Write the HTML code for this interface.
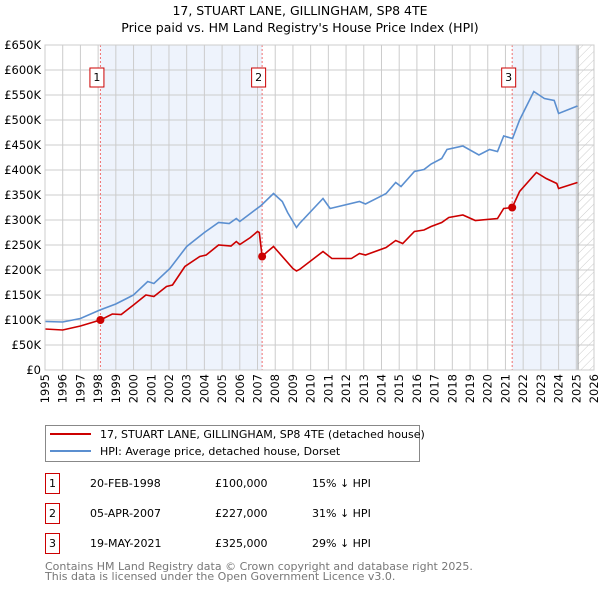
<!DOCTYPE html>
<html><head><meta charset="utf-8"><style>
body{margin:0;background:#fff;width:600px;height:590px;overflow:hidden;font-family:"DejaVu Sans","Liberation Sans",sans-serif}
svg text{font-family:"DejaVu Sans","Liberation Sans",sans-serif}
</style></head><body>
<svg id="chart" width="600" height="590" xmlns="http://www.w3.org/2000/svg">
<defs><pattern id="hatch" width="6" height="6" patternUnits="userSpaceOnUse" patternTransform="rotate(45)"><line x1="0" y1="0" x2="0" y2="6" stroke="#ccc" stroke-width="1"/></pattern></defs>
<text x="300" y="15" text-anchor="middle" font-size="12.5">17, STUART LANE, GILLINGHAM, SP8 4TE</text>
<text x="300" y="32" text-anchor="middle" font-size="12.5">Price paid vs. HM Land Registry's House Price Index (HPI)</text>
<g id="plot"></g>
<g>
<rect x="45.5" y="425.5" width="374" height="36" fill="#fff" stroke="#888"/>
<line x1="50" y1="434" x2="91" y2="434" stroke="#cc0000" stroke-width="2"/>
<text x="100" y="438" font-size="11">17, STUART LANE, GILLINGHAM, SP8 4TE (detached house)</text>
<line x1="50" y1="451" x2="91" y2="451" stroke="#5b8fd0" stroke-width="2"/>
<text x="100" y="455" font-size="11">HPI: Average price, detached house, Dorset</text>
</g>
<g id="table" font-size="11"></g>
<text x="45" y="570" font-size="11" fill="#777">Contains HM Land Registry data © Crown copyright and database right 2025.</text>
<text x="45" y="580" font-size="11" fill="#777">This data is licensed under the Open Government Licence v3.0.</text>
</svg>
<script>
const yTicks=[0,50,100,150,200,250,300,350,400,450,500,550,600,650];
const yTickLabels=["£0","£50K","£100K","£150K","£200K","£250K","£300K","£350K","£400K","£450K","£500K","£550K","£600K","£650K"];
const xTicks=[1995,1996,1997,1998,1999,2000,2001,2002,2003,2004,2005,2006,2007,2008,2009,2010,2011,2012,2013,2014,2015,2016,2017,2018,2019,2020,2021,2022,2023,2024,2025,2026];
const hpiYears=[1995,1996,1997,1998.1,1999,2000,2000.8,2001.15,2002.05,2003,2004,2004.8,2005.4,2005.8,2006,2006.6,2007.2,2007.9,2008.4,2008.7,2009.2,2009.37,2010.7,2011.1,2012.76,2013.1,2014.26,2014.8,2015.1,2015.86,2016.4,2016.8,2017.4,2017.7,2018.6,2019.5,2020.1,2020.55,2020.9,2021.4,2021.8,2022.6,2023.2,2023.75,2024.0,2025.06];
const hpiValues=[97,96,103,120,132,150,177,173,203,247,275,295,293,303,297,313,329,353,337,315,285,293,343,323,337,332,353,375,367,397,401,412,423,441,448,430,441,437,468,463,500,557,543,539,513,528];
const ppYears=[1995,1996,1997,1998.13,1998.8,1999.3,2000,2000.7,2001.15,2001.86,2002.2,2002.9,2003.74,2004.1,2004.8,2005.5,2005.8,2006,2006.6,2007.0,2007.1,2007.26,2007.5,2007.9,2008.2,2009.0,2009.2,2009.37,2010.7,2011.2,2012.3,2012.76,2013.1,2014.26,2014.8,2015.2,2015.86,2016.4,2016.8,2017.4,2017.8,2018.6,2019.3,2020.55,2020.9,2021.38,2021.8,2022.75,2023.3,2023.9,2024.0,2025.06];
const ppValues=[82,80,88,100,112,111,130,150,147,167,170,207,227,230,250,248,257,251,265,277,275,227,235,247,235,203,198,201,237,223,223,233,230,245,259,253,277,280,287,295,305,310,299,303,323,325,357,395,383,373,363,375];
const saleYears=[1998.13,2007.26,2021.38];
const saleValues=[100,227,325];
const saleLabels=["1","2","3"];
const saleDates=["20-FEB-1998","05-APR-2007","19-MAY-2021"];
const salePrices=["£100,000","£227,000","£325,000"];
const saleHpi=["15% ↓ HPI","31% ↓ HPI","29% ↓ HPI"];
const dataEnd=2025.1;

const NS="http://www.w3.org/2000/svg";
const X0=45,X1=594,Y0=370,Y1=45;
const xs=y=>X0+(y-1995)/(2026-1995)*(X1-X0);
const ys=v=>Y0-v/650*(Y0-Y1);
const plot=document.getElementById('plot');
function mk(tag,attrs,parent){const e=document.createElementNS(NS,tag);for(const k in attrs)e.setAttribute(k,attrs[k]);(parent||plot).appendChild(e);return e;}
let s1=mk('rect',{x:xs(saleYears[0]),y:Y1,width:xs(saleYears[1])-xs(saleYears[0]),height:Y0-Y1,fill:'#eef3fc'});


let s2=mk('rect',{x:xs(saleYears[2]),y:Y1,width:xs(dataEnd)-xs(saleYears[2]),height:Y0-Y1,fill:'#eef3fc'});


let h=mk('rect',{x:xs(dataEnd),y:Y1,width:X1-xs(dataEnd),height:Y0-Y1,fill:'url(#hatch)'});


xTicks.forEach(t=>{
 const l=mk('line',{x1:xs(t),x2:xs(t),y1:Y1,y2:Y0,stroke:'#ccc','stroke-width':1});
 
 
 const tx=mk('text',{transform:`translate(${xs(t)+4},${Y0+4}) rotate(-90)`,'text-anchor':'end','font-size':11.5});
 
 
 tx.textContent=t;
});
yTicks.forEach((t,i)=>{
 const l=mk('line',{x1:X0,x2:X1,y1:ys(t),y2:ys(t),stroke:'#ccc','stroke-width':1});
 
 
 const tx=mk('text',{x:X0-4,y:ys(t)+4,'text-anchor':'end','font-size':11.5});
 
 
 tx.textContent=yTickLabels[i];
});
let de=mk('line',{x1:xs(dataEnd),x2:xs(dataEnd),y1:Y1,y2:Y0,stroke:'#999','stroke-width':1});


saleYears.forEach((y,i)=>{
 const l=mk('line',{x1:xs(y),x2:xs(y),y1:Y1,y2:Y0,stroke:'#f07070','stroke-width':1,'stroke-dasharray':'2,2'});
 
 
 const b=mk('rect',{x:xs(y)-10.5,y:68,width:14,height:19,fill:'#fff',stroke:'#cc0000'});
 
 
 const t=mk('text',{x:xs(y)-3.5,y:81,'text-anchor':'middle','font-size':11});
 
 
 t.textContent=saleLabels[i];
});
const path=(xa,va)=>xa.map((x,i)=>(i?'L':'M')+xs(x).toFixed(1)+','+ys(va[i]).toFixed(1)).join('');
let hl=mk('path',{d:path(hpiYears,hpiValues),fill:'none',stroke:'#5b8fd0','stroke-width':1.6});


let pl=mk('path',{d:path(ppYears,ppValues),fill:'none',stroke:'#cc0000','stroke-width':1.6});


saleYears.forEach((y,i)=>{
 const c=mk('circle',{cx:xs(y),cy:ys(saleValues[i]),r:4,fill:'#cc0000'});
 
 
});
let fr=mk('rect',{x:X0,y:Y1,width:X1-X0,height:Y0-Y1,fill:'none',stroke:'#ccc'});


const tb=document.getElementById('table');
saleYears.forEach((y,i)=>{
 const cy=483+i*30;
 const b=mk('rect',{x:45.5,y:cy-9.5,width:14,height:20,fill:'#fff',stroke:'#cc0000'},tb);
 
 
 const cols=[[52.5,saleLabels[i],'middle','table-row-number'],[90,saleDates[i],'start','table-row-date'],[215,salePrices[i],'start','table-row-price'],[312,saleHpi[i],'start','table-row-hpi']];
 cols.forEach(c=>{
  const t=mk('text',{x:c[0],y:cy+4,'text-anchor':c[2]},tb);
  
  
  t.textContent=c[1];
 });
});
</script>
</body></html>
